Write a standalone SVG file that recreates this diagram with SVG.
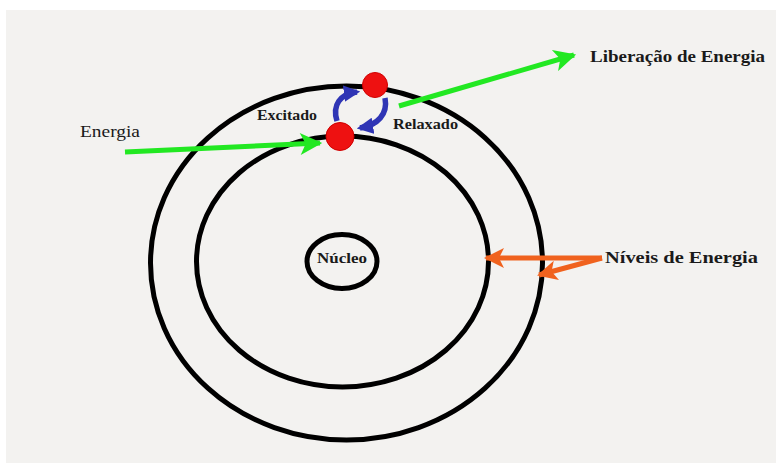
<svg xmlns="http://www.w3.org/2000/svg" width="776" height="463" viewBox="0 0 776 463">
<style>
.orbit{fill:none;stroke:#000;stroke-width:5}
.lbl{font-family:"Liberation Serif","Times New Roman",serif;fill:#1a1a1a}
.b{font-weight:bold}
.green{stroke:#22e822;stroke-width:5;fill:none}
.orange{stroke:#f0621e;stroke-width:5;fill:none}
.blue{stroke:#2f35b5;stroke-width:5.5;fill:none}
.e{fill:#ee1111;stroke:#d00000;stroke-width:1}
</style>
<defs>
<marker id="hg" viewBox="0 0 10 10" refX="9" refY="5" markerWidth="5" markerHeight="4.4" orient="auto" markerUnits="strokeWidth">
<path d="M0,0 L10,5 L0,10 L2.5,5 Z" fill="#22e822"/>
</marker>
<marker id="ho" viewBox="0 0 10 10" refX="9" refY="5" markerWidth="4.5" markerHeight="4" orient="auto" markerUnits="strokeWidth">
<path d="M0,0 L10,5 L0,10 L2.5,5 Z" fill="#f0621e"/>
</marker>
<marker id="hb" viewBox="0 0 10 10" refX="8" refY="5" markerWidth="3" markerHeight="3" orient="auto" markerUnits="strokeWidth">
<path d="M0,0 L10,5 L0,10 Z" fill="#2f35b5"/>
</marker>
</defs>
<rect x="0" y="0" width="776" height="463" fill="#ffffff"/>
<rect x="6" y="10" width="770" height="453" fill="#f3f2f0"/>
<g id="outer-orbit"><ellipse class="orbit" cx="346.5" cy="263" rx="196" ry="177"/></g>
<g id="inner-orbit"><ellipse class="orbit" cx="342.5" cy="261.5" rx="146" ry="125.5"/></g>
<g id="nucleo">
<ellipse class="orbit" cx="342" cy="261.5" rx="35" ry="27"/>
<text class="lbl b" x="317" y="263" font-size="14" textLength="50" lengthAdjust="spacingAndGlyphs">Núcleo</text>
</g>
<g id="eletron-excitado"><circle class="e" cx="375" cy="85" r="12.5"/></g>
<g id="eletron-relaxado"><circle class="e" cx="340" cy="136.5" r="14"/></g>
<g id="connectors">
<path class="blue" d="M337,121 C332,105 340,94 357,92" marker-end="url(#hb)"/>
<path class="blue" d="M385,98 C388,114 378,125 360,128" marker-end="url(#hb)"/>
<path class="green" d="M125,152 L320,143" marker-end="url(#hg)"/>
<path class="green" d="M399,106 L574,55" marker-end="url(#hg)"/>
<path class="orange" d="M602,258 L486,258" marker-end="url(#ho)"/>
<path class="orange" d="M602,258 L539,275" marker-end="url(#ho)"/>
</g>
<g id="labels">
<text class="lbl b" x="257" y="120" font-size="14" textLength="60" lengthAdjust="spacingAndGlyphs">Excitado</text>
<text class="lbl b" x="393" y="129" font-size="14" textLength="65" lengthAdjust="spacingAndGlyphs">Relaxado</text>
<text class="lbl" x="80" y="137" font-size="17.5" textLength="60" lengthAdjust="spacingAndGlyphs">Energia</text>
<text class="lbl b" x="590" y="62" font-size="16" textLength="175" lengthAdjust="spacingAndGlyphs">Liberação de Energia</text>
<text class="lbl b" x="605" y="263" font-size="16" textLength="153" lengthAdjust="spacingAndGlyphs">Níveis de Energia</text>
</g>
</svg>
